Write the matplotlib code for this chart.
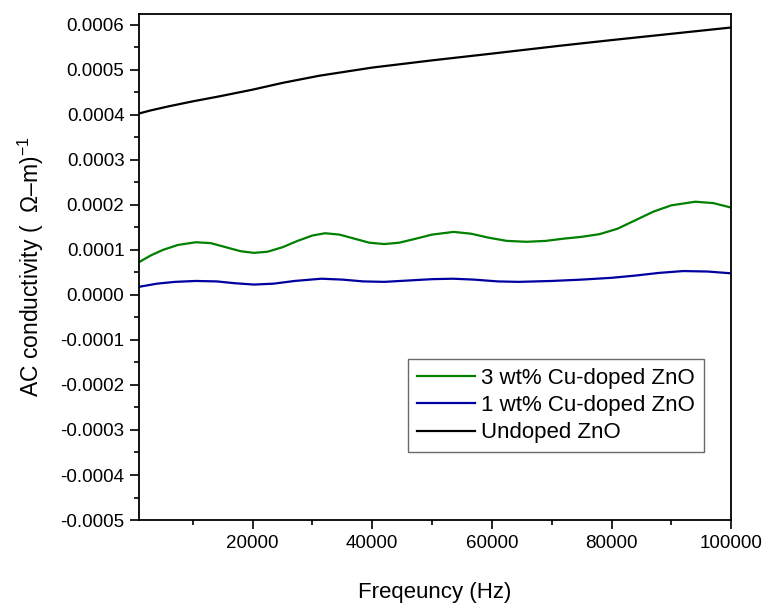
import numpy as np
import matplotlib
matplotlib.use("Agg")
import matplotlib.pyplot as plt
from matplotlib.ticker import MultipleLocator, FormatStrFormatter

plt.rcParams["font.family"] = ["Liberation Sans", "DejaVu Sans"]
plt.rcParams["mathtext.fontset"] = "custom"
plt.rcParams["mathtext.rm"] = "Liberation Sans"
plt.rcParams["mathtext.it"] = "Liberation Sans:italic"
plt.rcParams["axes.unicode_minus"] = False

# AC conductivity vs frequency
freq_3wt = [1000, 3000, 5000, 7500, 10500, 13000, 15500, 18000, 20200, 22500,
            25000, 27500, 30000, 32100, 34500, 37000, 39500, 42000, 44500, 47000,
            50000, 53600, 56500, 59500, 62500, 65800, 69000, 72000, 75000, 78000,
            81000, 84000, 87000, 90000, 94000, 97000, 100000]
sigma_3wt = [0.0000728, 0.000088, 0.000100, 0.000111, 0.000117, 0.000115, 0.000106,
             0.000097, 0.0000934, 0.000096, 0.000106, 0.000120, 0.000132, 0.000137,
             0.000134, 0.000125, 0.000116, 0.000113, 0.000116, 0.000124, 0.000134,
             0.000140, 0.000136, 0.000127, 0.000120, 0.000118, 0.000120, 0.000125,
             0.000129, 0.000135, 0.000147, 0.000166, 0.000185, 0.000199, 0.000207,
             0.000204, 0.000194]

freq_1wt = [1000, 4000, 7000, 10500, 14000, 17000, 20200, 23500, 27000, 31500,
            35000, 38500, 42000, 46000, 50000, 53500, 57000, 61000, 64500, 70000,
            75000, 80000, 84000, 88000, 92000, 96000, 100000]
sigma_1wt = [0.000018, 0.000025, 0.000029, 0.000031, 0.000030, 0.000026, 0.000023,
             0.000025, 0.000031, 0.000036, 0.000034, 0.000030, 0.000029, 0.000032,
             0.000035, 0.000036, 0.000034, 0.000030, 0.000029, 0.000031, 0.000034,
             0.000038, 0.000043, 0.000049, 0.000053, 0.000052, 0.000048]

freq_undoped = [1000, 3000, 6000, 10000, 14400, 20000, 25000, 31200, 40000, 50000,
                60000, 71400, 80000, 90000, 100000]
sigma_undoped = [0.000403, 0.000410, 0.000419, 0.000430, 0.000441, 0.000456, 0.000471,
                 0.000487, 0.000505, 0.000521, 0.000536, 0.0005535, 0.000566, 0.000580,
                 0.000594]

fig = plt.figure(figsize=(7.64, 6.03), dpi=100)
ax = fig.add_axes([0.182, 0.1376, 0.775, 0.8392])

ax.plot(freq_3wt, sigma_3wt, color="#008000", lw=1.6, label="3 wt% Cu-doped ZnO")
ax.plot(freq_1wt, sigma_1wt, color="#0000a0", lw=1.6, label="1 wt% Cu-doped ZnO")
ax.plot(freq_undoped, sigma_undoped, color="black", lw=1.6, label="Undoped ZnO")

ax.set_xlim(1000, 100000)
ax.set_ylim(-0.0005, 0.000624)

ax.xaxis.set_major_locator(MultipleLocator(20000))
ax.xaxis.set_minor_locator(MultipleLocator(10000))
ax.yaxis.set_major_locator(MultipleLocator(0.0001))
ax.yaxis.set_minor_locator(MultipleLocator(0.00005))
ax.yaxis.set_major_formatter(FormatStrFormatter("%.4f"))

ax.tick_params(which="both", direction="out", width=1.2, labelsize=13.5,
               top=False, right=False)
ax.tick_params(which="major", length=6.5, pad=4)
ax.tick_params(which="minor", length=3.5)
for s in ax.spines.values():
    s.set_linewidth(1.3)

ax.set_xlabel("Freqeuncy (Hz)", fontsize=16, labelpad=22)
ax.set_ylabel("AC conductivity (  Ω–m)$^{-1}$", fontsize=16.5, labelpad=10)

leg = ax.legend(loc="lower left", bbox_to_anchor=(0.454, 0.134), borderaxespad=0,
                fontsize=16, fancybox=False, frameon=True, handlelength=2.6,
                handletextpad=0.3, borderpad=0.4, labelspacing=0.28)
leg.get_frame().set_edgecolor("#444444")
leg.get_frame().set_linewidth(1.0)

fig.savefig("out.png", dpi=100)
